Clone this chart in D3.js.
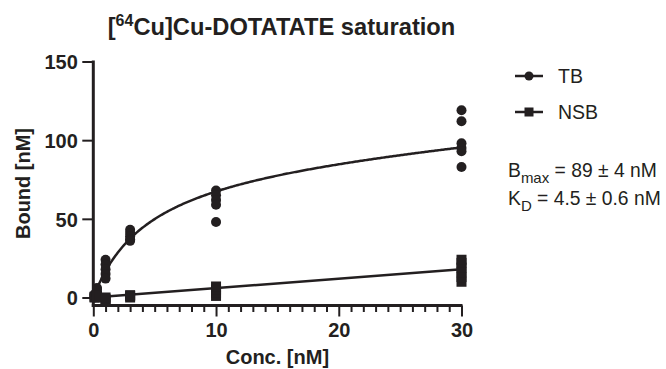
<!DOCTYPE html>
<html>
<head>
<meta charset="utf-8">
<script src="https://cdn.jsdelivr.net/npm/d3@7"></script>
<style>
  html, body { margin: 0; padding: 0; background: #fff; }
  svg { display: block; }
  text { font-family: "Liberation Sans", Arial, Helvetica, sans-serif; fill: #231f20; }
</style>
</head>
<body>
<svg id="chart" width="666" height="369"></svg>
<script>
// ---- data ----
const concentrations = [0.1, 0.3, 1, 3, 10, 30];
const tbValues = [
  [0, 1, 2],
  [3, 5, 6],
  [24, 21, 18, 15, 12],
  [43, 41, 39, 37, 36],
  [68, 65, 62, 59, 48],
  [119, 112, 98, 95, 93, 83]
];
const nsbValues = [
  [0, 0.5],
  [0, 1],
  [-2, -1, 0],
  [0, 1, 1.5],
  [1, 3, 5, 7],
  [10, 13, 16, 19, 22, 24]
];
const xMajorTicks = [0, 10, 20, 30];
const yTicks = [0, 50, 100, 150];
// fit parameters (one-site total and nonspecific binding)
const Bmax = 89;
const Kd = 4.5;
const nsSlope = 0.6;
const legendLabels = ["TB", "NSB"];

// ---- layout ----
const svg = d3.select("#chart");
const ink = "#231f20";
const x = d3.scaleLinear().domain([0, 30]).range([93.3, 461.5]);
const y = d3.scaleLinear().domain([0, 150]).range([297.5, 61.5]);
const axisY = 305.5;

// curves
const curveX = d3.range(0, 30.001, 0.1);
const line = d3.line().x(d => x(d[0])).y(d => y(d[1]));
svg.append("path")
  .attr("d", line(curveX.map(c => [c, Bmax * c / (Kd + c) + nsSlope * c])))
  .attr("fill", "none").attr("stroke", ink).attr("stroke-width", 2.5);
svg.append("path")
  .attr("d", line([0, 30].map(c => [c, nsSlope * c])))
  .attr("fill", "none").attr("stroke", ink).attr("stroke-width", 2.5);

// points
const tbPts = [];
concentrations.forEach((c, i) => tbValues[i].forEach(v => tbPts.push([c, v])));
const nsbPts = [];
concentrations.forEach((c, i) => nsbValues[i].forEach(v => nsbPts.push([c, v])));

svg.append("g").selectAll("circle").data(tbPts).join("circle")
  .attr("cx", d => x(d[0])).attr("cy", d => y(d[1])).attr("r", 5).attr("fill", ink);
svg.append("g").selectAll("rect").data(nsbPts).join("rect")
  .attr("x", d => x(d[0]) - 5).attr("y", d => y(d[1]) - 5)
  .attr("width", 10).attr("height", 10).attr("fill", ink);

// x axis
const gx = svg.append("g").attr("transform", `translate(0,${axisY})`);
gx.call(d3.axisBottom(x).tickValues(d3.range(0, 31).filter(v => v % 10 !== 0))
  .tickSize(6.5).tickFormat(""));
gx.call(g => g.select(".domain").remove());
const gxMaj = svg.append("g").attr("transform", `translate(0,${axisY})`);
gxMaj.call(d3.axisBottom(x).tickValues(xMajorTicks).tickSize(11).tickFormat(d3.format("d")));
gxMaj.select(".domain").remove();
svg.selectAll("g .tick line").attr("stroke", ink).attr("stroke-width", 2);
gxMaj.selectAll("text").attr("y", 31.5).attr("dy", 0)
  .style("font-size", "20px").style("font-weight", "bold").attr("fill", ink);

// y axis
const gy = svg.append("g").attr("transform", `translate(${x(0)},0)`);
gy.call(d3.axisLeft(y).tickValues(yTicks).tickSize(11).tickFormat(d3.format("d")));
gy.select(".domain").remove();
gy.selectAll(".tick line").attr("stroke", ink).attr("stroke-width", 2);
gy.selectAll("text").attr("x", -15.5).attr("dy", "0.36em")
  .style("font-size", "20px").style("font-weight", "bold").attr("fill", ink);

// axis lines
svg.append("line").attr("x1", x(0)).attr("x2", x(0)).attr("y1", y(150) - 1).attr("y2", axisY + 1.5)
  .attr("stroke", ink).attr("stroke-width", 3);
svg.append("line").attr("x1", x(0) - 1.5).attr("x2", x(30) + 1).attr("y1", axisY).attr("y2", axisY)
  .attr("stroke", ink).attr("stroke-width", 3);

// axis titles
svg.append("text").attr("x", (x(0) + x(30)) / 2).attr("y", 364)
  .attr("text-anchor", "middle").style("font-size", "20px").style("font-weight", "bold")
  .text("Conc. [nM]");
svg.append("text").attr("transform", `translate(30,${(y(150) + axisY) / 2}) rotate(-90)`)
  .attr("text-anchor", "middle").style("font-size", "20px").style("font-weight", "bold")
  .text("Bound [nM]");

// title
const title = svg.append("text").attr("x", 281.5).attr("y", 35).attr("text-anchor", "middle")
  .style("font-size", "23.7px").style("font-weight", "bold");
title.append("tspan").text("[");
title.append("tspan").attr("dy", -9.5).style("font-size", "16px").text("64");
title.append("tspan").attr("dy", 9.5).text("Cu]Cu-DOTATATE saturation");

// legend
const legY = [76, 112];
legendLabels.forEach((lab, i) => {
  const g = svg.append("g");
  g.append("line").attr("x1", 515).attr("x2", 543).attr("y1", legY[i]).attr("y2", legY[i])
    .attr("stroke", ink).attr("stroke-width", 2.5);
  if (i === 0) g.append("circle").attr("cx", 529).attr("cy", legY[i]).attr("r", 4.5).attr("fill", ink);
  else g.append("rect").attr("x", 524.5).attr("y", legY[i] - 4.5).attr("width", 9).attr("height", 9).attr("fill", ink);
  g.append("text").attr("x", 558).attr("y", legY[i] + 7).style("font-size", "19.5px").text(lab);
});

// fit results
const t1 = svg.append("text").attr("x", 508).attr("y", 177).style("font-size", "19.3px");
t1.append("tspan").text("B");
t1.append("tspan").attr("dy", 5.5).style("font-size", "15px").text("max");
t1.append("tspan").attr("dy", -5.5).text(" = " + Bmax + " \u00b1 4 nM");
const t2 = svg.append("text").attr("x", 508).attr("y", 205).style("font-size", "19.3px");
t2.append("tspan").text("K");
t2.append("tspan").attr("dy", 5.5).style("font-size", "15px").text("D");
t2.append("tspan").attr("dy", -5.5).text(" = " + Kd + " \u00b1 0.6 nM");
</script>
</body>
</html>
